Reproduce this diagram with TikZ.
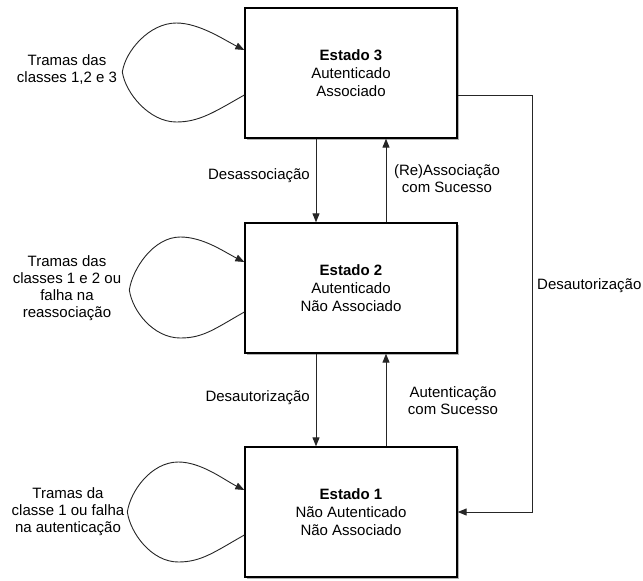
\documentclass[tikz,border=0pt]{standalone}
\usepackage{fontspec}
\setmainfont{Liberation Sans}
\usetikzlibrary{arrows.meta, shadows}

\begin{document}
\begin{tikzpicture}[x=1pt, y=-1pt,
  state/.style={draw=black, line width=1.3pt, fill=white,
                minimum width=212pt, minimum height=130pt, align=center,
                font=\fontsize{15}{18}\selectfont,
                drop shadow={shadow xshift=2pt, shadow yshift=-2pt,
                             fill=black!60, opacity=.5}},
  lbl/.style={align=center, font=\fontsize{15}{17}\selectfont, inner sep=0pt},
  arr/.style={draw=black!85, line width=0.9pt,
              -{Triangle[length=9pt, width=7pt]}}]
  \useasboundingbox (0,0) rectangle (643,581);

  % os tres estados
  \node[state] (e3) at (351,73)  {\textbf{Estado 3}\\Autenticado\\Associado};
  \node[state] (e2) at (351,288) {\textbf{Estado 2}\\Autenticado\\Não Associado};
  \node[state] (e1) at (351,512) {\textbf{Estado 1}\\Não Autenticado\\Não Associado};

  % transicoes verticais
  \draw[arr] ([xshift=-35pt]e3.south) -- ([xshift=-35pt]e2.north);
  \draw[arr] ([xshift=35pt]e2.north) -- ([xshift=35pt]e3.south);
  \draw[arr] ([xshift=-35pt]e2.south) -- ([xshift=-35pt]e1.north);
  \draw[arr] ([xshift=35pt]e1.north) -- ([xshift=35pt]e2.south);
  \node[lbl, anchor=east] (l32) at (310,176) {Desassociação};
  \node[lbl] (l23) at (447,179) {(Re)Associação\\com Sucesso};
  \node[lbl, anchor=east] (l21) at (310,398) {Desautorização};
  \node[lbl] (l12) at (453,401) {Autenticação\\com Sucesso};

  % desautorizacao 3 -> 1
  \draw[arr] ([yshift=-22pt]e3.east) -- ++(75,0) |- (e1.east);
  \node[lbl, anchor=west] (l31) at (537,286) {Desautorização};

  % lacos
  \draw[arr] ([yshift=-22pt]e3.west)
    .. controls +(-30,17) and +(23,0) .. ++(-68,27)
    .. controls +(-27,0) and +(3,21) .. ++(-54,-50)
    .. controls +(3,-21) and +(-27,0) .. ++(54,-49)
    .. controls +(23,0) and +(-20,-10) .. ([yshift=23pt]e3.west);
  \draw[arr] ([yshift=-24pt]e2.west)
    .. controls +(-30,17) and +(23,0) .. ++(-64,26)
    .. controls +(-27,0) and +(3,21) .. ++(-51,-48)
    .. controls +(3,-21) and +(-27,0) .. ++(51,-53)
    .. controls +(23,0) and +(-20,-10) .. ([yshift=26pt]e2.west);
  \draw[arr] ([yshift=-23pt]e1.west)
    .. controls +(-30,17) and +(23,0) .. ++(-66,27)
    .. controls +(-27,0) and +(3,21) .. ++(-51,-50)
    .. controls +(3,-21) and +(-27,0) .. ++(51,-50)
    .. controls +(23,0) and +(-20,-10) .. ([yshift=22pt]e1.west);
  \node[lbl] (t3) at (67,70)  {Tramas das\\classes 1,2 e 3};
  \node[lbl] (t2) at (67,288) {Tramas das\\classes 1 e 2 ou\\falha na\\reassociação};
  \node[lbl] (t1) at (68,512) {Tramas da\\classe 1 ou falha\\na autenticação};
\end{tikzpicture}
\end{document}
